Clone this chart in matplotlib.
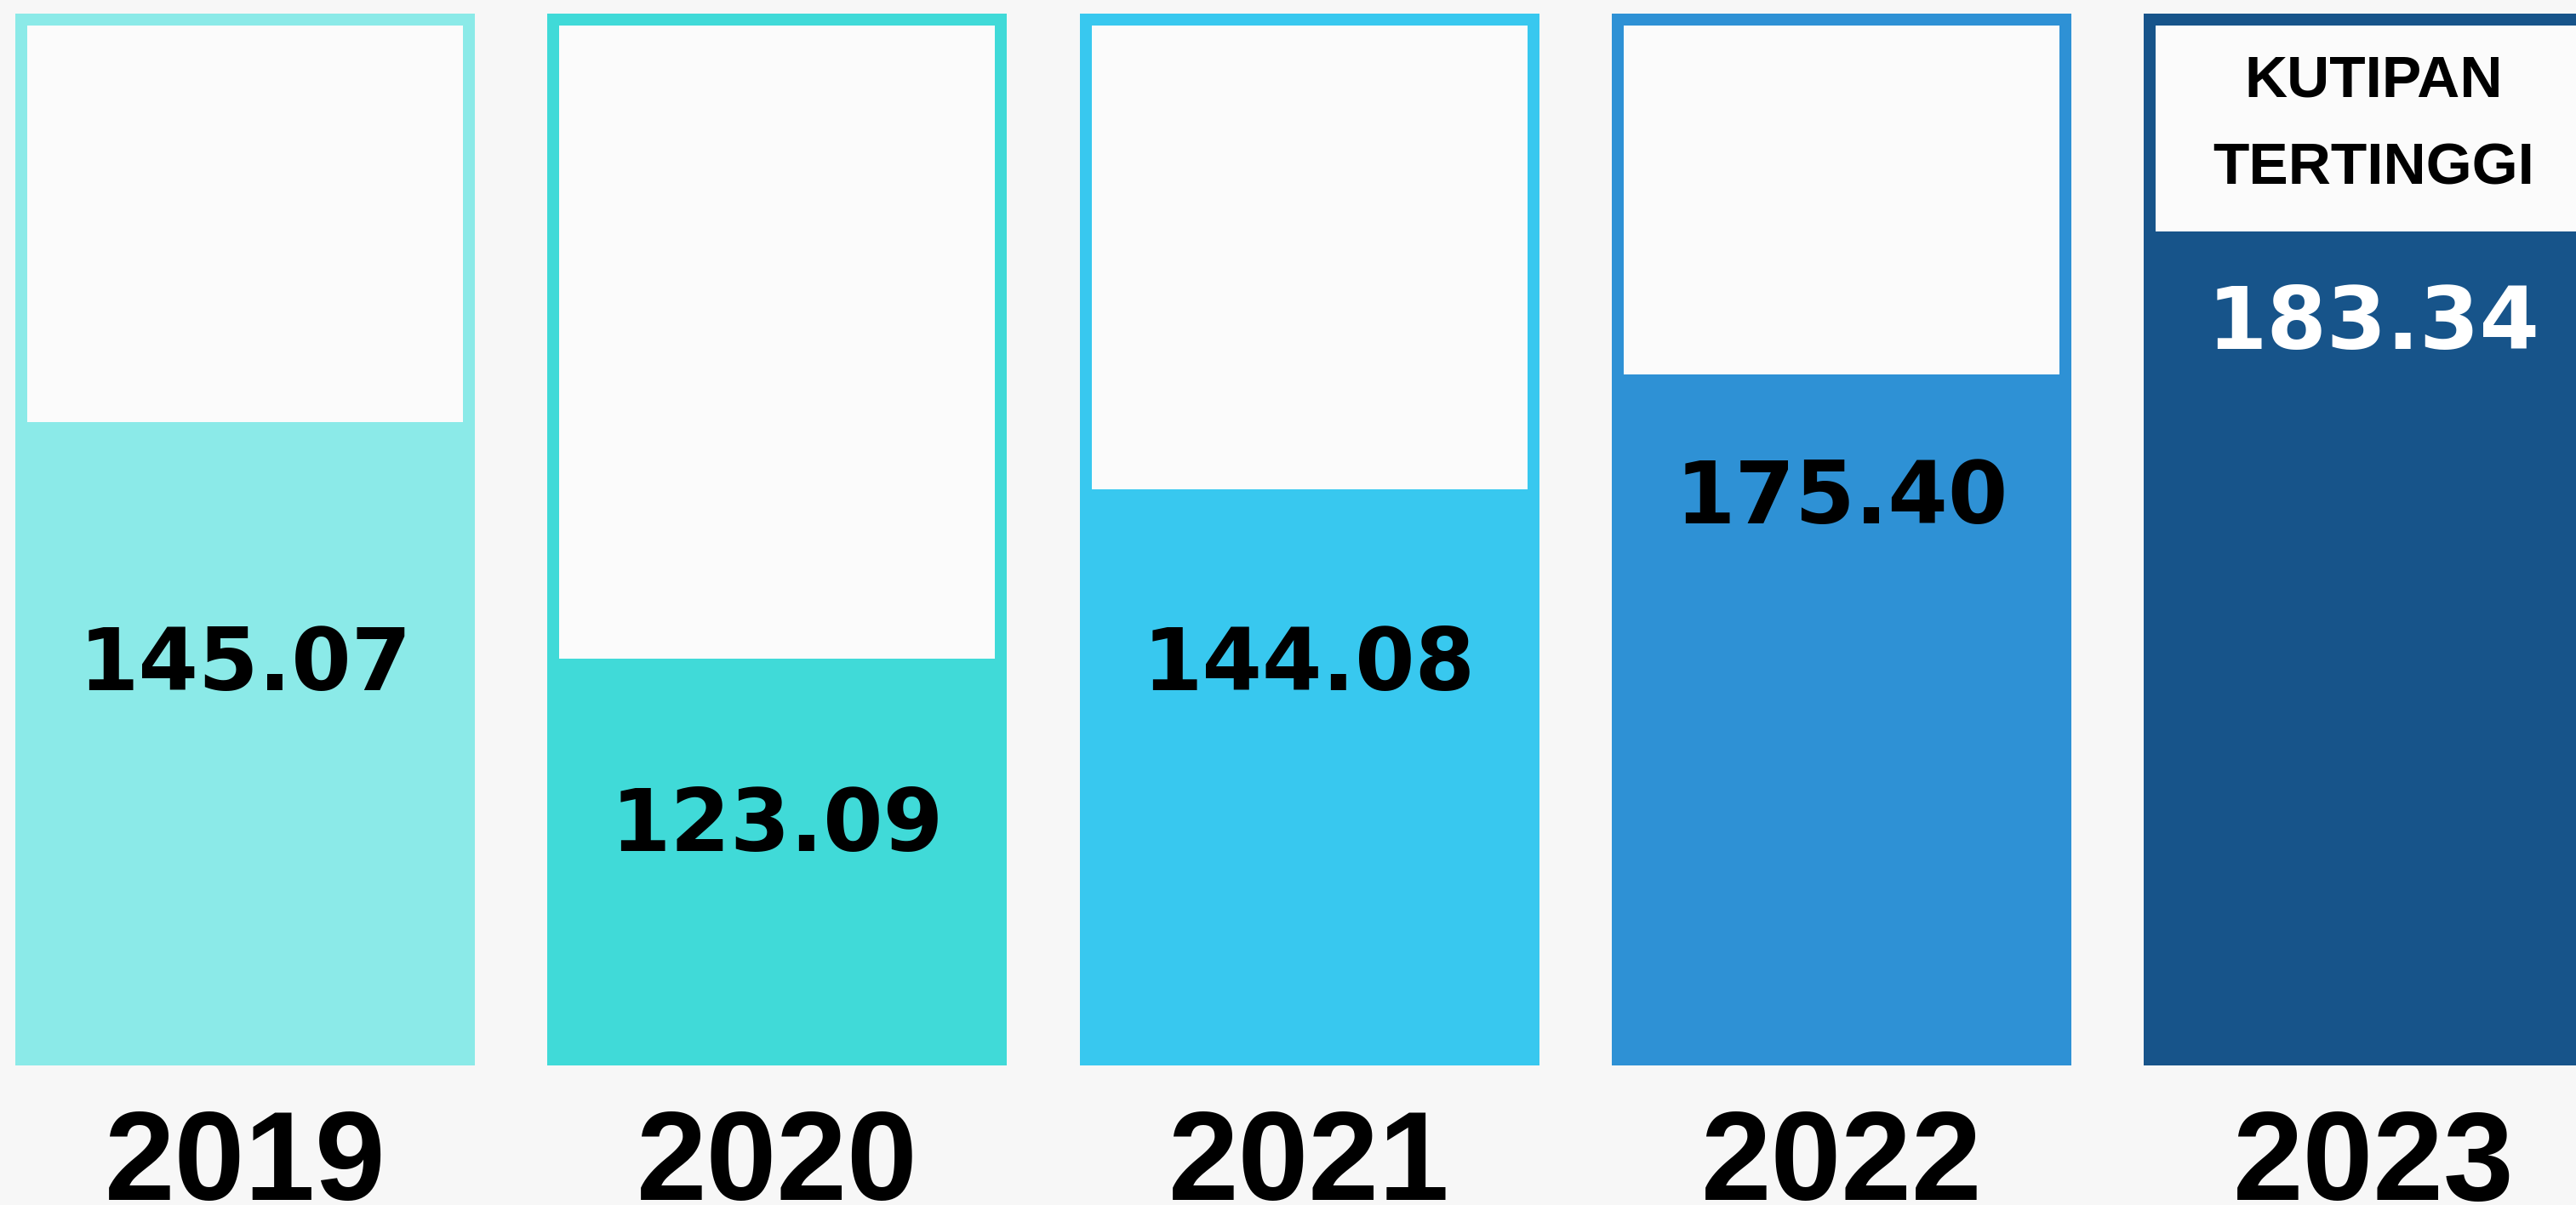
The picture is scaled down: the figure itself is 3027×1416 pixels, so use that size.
import numpy as np
import matplotlib.pyplot as plt

# DATA
years = ['2019', '2020', '2021', '2022', '2023']
values = [145.07, 123.09, 144.08, 175.40, 183.34]
# fill level of each column, % of the column height
levels = [61.2, 38.7, 54.8, 65.7, 79.3]
note_lines = ['KUTIPAN', 'TERTINGGI']

colors = ['#8beae8', '#40dad8', '#38c8ef', '#2e91d5', '#17548a']
label_colors = ['black', 'black', 'black', 'black', 'white']
label_base = [35.7, 20.4, 35.7, 51.5, 68.1]  # baseline of value labels, in % units

bg = '#f7f7f7'
inner = '#fbfbfb'

W, H = 3027, 1416
fig = plt.figure(figsize=(W / 100, H / 100), dpi=100, facecolor=bg)
ax = fig.add_axes([0, 0, 1, 1])
ax.set_facecolor(bg)

# pixel geometry -> data limits
px_x0, px_step = 288, 625.25       # centre of first column, spacing
px_top, px_bot = 16, 1252          # top / bottom of columns
ypx = (px_bot - px_top) / 100.0
ax.set_xlim(-px_x0 / px_step, (W - px_x0) / px_step)
ax.set_ylim(-(H - px_bot) / ypx, 100 + px_top / ypx)
ax.axis('off')

x = np.arange(len(years))
bw = 540 / px_step
bx = 14 / px_step
by = 14 / ypx

ax.bar(x, 100, width=bw, color=colors, linewidth=0)
lv = np.array(levels)
ax.bar(x, 100 - by - lv, bottom=lv, width=bw - 2 * bx, color=inner, linewidth=0)

for i, v in enumerate(values):
    ax.text(x[i], label_base[i], f'{v:.2f}', ha='center', va='baseline',
            fontsize=73, fontweight='bold', family='DejaVu Sans',
            color=label_colors[i])
    ax.text(x[i], -12.8, years[i], ha='center', va='baseline',
            fontsize=107, fontweight='bold', family='Liberation Sans',
            color='black')

# note in the top of the highest column
top_i = int(np.argmax(values))
for k, line in enumerate(note_lines):
    ax.text(x[top_i], 92.15 - k * 8.41, line, ha='center', va='baseline',
            fontsize=50, fontweight='bold', family='Liberation Sans', color='black')

fig.savefig('out.png', dpi=100, facecolor=bg)
